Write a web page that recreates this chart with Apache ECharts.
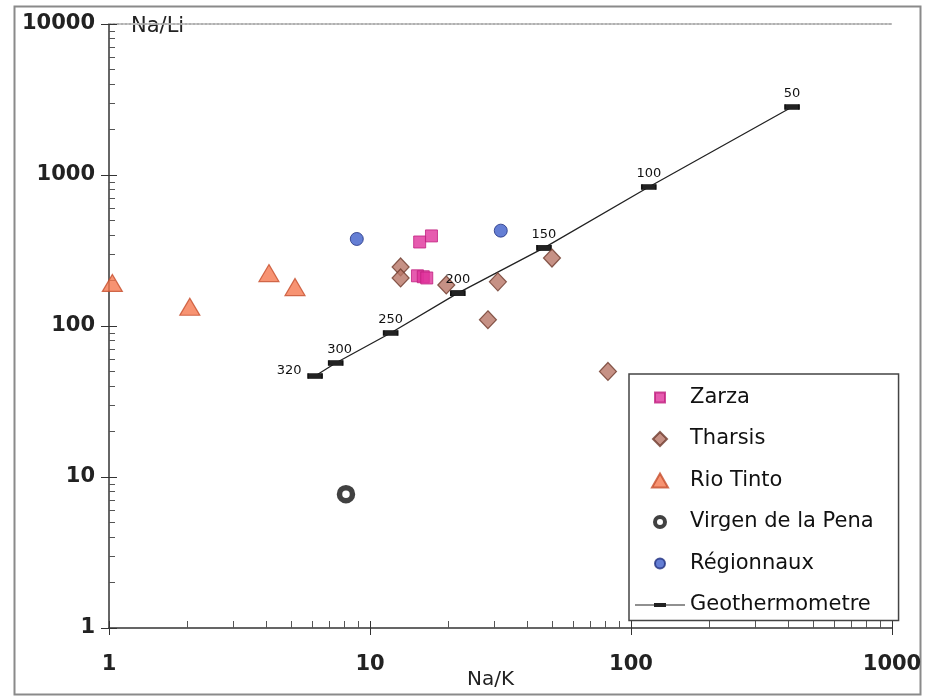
<!DOCTYPE html>
<html lang="en">
<head>
  <meta charset="UTF-8">
  <title>Na/K vs Na/Li</title>
  <script src="https://cdn.jsdelivr.net/npm/echarts@6/dist/echarts.min.js"></script>
  <style>
    body { margin: 0; background: #fff; }
    #main { width: 928px; height: 699px; }
  </style>
</head>
<body>
  <div id="main"></div>
  <script>
  // data, [Na/K, Na/Li]
  const zarza = [[15.5, 360], [17.2, 395], [15.2, 215], [16.0, 212], [16.5, 208]];
  const tharsis = [[13.1, 246], [13.1, 208], [19.6, 187], [30.9, 196], [28.3, 110], [49.8, 282], [81.6, 50]];
  const rioTinto = [[1.03, 193], [2.04, 134], [4.1, 224], [5.16, 181]];
  const virgen = [[8.09, 7.7]];
  const regionnaux = [[8.9, 377], [31.7, 428]];
  const geoTemps = ['320', '300', '250', '200', '150', '100', '50'];
  const geoPoints = [[6.16, 46.6], [7.39, 56.9], [12.0, 89.9], [21.7, 165], [46.4, 329], [117, 833], [414, 2820]];

  const xMajor = [1, 10, 100, 1000];
  const yMajor = [1, 10, 100, 1000, 10000];

  // minor ticks at 2..9 of each decade
  function minorTicks(lo, hi) {
    const out = [];
    for (let d = lo; d < hi; d *= 10) {
      for (let k = 2; k <= 9; k++) out.push(d * k);
    }
    return out;
  }
  const xMinor = minorTicks(1, 1000);
  const yMinor = minorTicks(1, 10000);

  // legend icons: 50x14 box (the moves set the box), shape centred so it is not stretched
  const box = 'M0,0M50,14';
  const icons = {
    square: 'path://' + box + 'M20,2L30,2L30,12L20,12Z',
    diamond: 'path://' + box + 'M25,0L32,7L25,14L18,7Z',
    triangle: 'path://' + box + 'M25,0L33,14L17,14Z',
    ring: 'path://' + box + 'M30,7A5,5 0 1 1 20,7A5,5 0 1 1 30,7Z',
    dot: 'path://' + box + 'M30,7A5,5 0 1 1 20,7A5,5 0 1 1 30,7Z',
    dash: 'path://' + box + 'M0,6.4L50,6.4L50,7.6L0,7.6ZM19,5L31,5L31,9L19,9Z'
  };

  const font = '"DejaVu Sans", sans-serif';
  const plain = v => String(Math.round(v));
  const chart = echarts.init(document.getElementById('main'));

  const baseX = { type: 'log', logBase: 10, min: 1, max: 1000, position: 'bottom', splitLine: { show: false } };
  const baseY = { type: 'log', logBase: 10, min: 1, max: 10000, position: 'left', offset: 0, splitLine: { show: false } };

  chart.setOption({
    animation: false,
    backgroundColor: '#fff',
    graphic: [{
      type: 'rect', left: 12, top: 4,
      shape: { width: 906, height: 688 },
      style: { fill: 'none', stroke: '#8a8a8a', lineWidth: 2 }
    }],
    grid: { left: 109, top: 24, width: 783, height: 604, outerBoundsMode: 'none' },
    xAxis: [
      Object.assign({}, baseX, {
        name: 'Na/K', nameLocation: 'middle', nameGap: 52, nameMoveOverlap: false,
        nameTextStyle: { fontFamily: font, fontSize: 20, color: '#222', verticalAlign: 'middle', padding: [0, 20, 0, 0] },
        axisLine: { lineStyle: { color: '#333', width: 1.5 } },
        axisTick: { customValues: xMajor, length: 7, lineStyle: { color: '#333' } },
        axisLabel: { customValues: xMajor, formatter: plain, margin: 26, fontFamily: font, fontSize: 21, fontWeight: 'bold', color: '#222' }
      }),
      Object.assign({}, baseX, {
        axisLine: { show: false },
        axisTick: { customValues: xMajor, inside: true, length: 7, lineStyle: { color: '#333' } },
        axisLabel: { show: false }
      }),
      Object.assign({}, baseX, {
        axisLine: { show: false },
        axisTick: { customValues: xMinor, inside: true, length: 7, lineStyle: { color: '#555' } },
        axisLabel: { show: false }
      }),
      Object.assign({}, baseX, {
        position: 'top',
        axisLine: { lineStyle: { color: '#b0b0b0', type: 'dotted', width: 2 } },
        axisTick: { show: false },
        axisLabel: { show: false }
      })
    ],
    yAxis: [
      Object.assign({}, baseY, {
        name: 'Na/Li', nameLocation: 'end', nameGap: -3,
        nameTextStyle: { fontFamily: font, fontSize: 21, color: '#222', align: 'left', verticalAlign: 'middle',
          backgroundColor: '#fff', padding: [0, 6, 0, 22] },
        axisLine: { lineStyle: { color: '#333', width: 1.5 } },
        axisTick: { customValues: yMajor, length: 8, lineStyle: { color: '#333' } },
        axisLabel: { customValues: yMajor, formatter: plain, margin: 14, fontFamily: font, fontSize: 21, fontWeight: 'bold', color: '#222' }
      }),
      Object.assign({}, baseY, {
        axisLine: { show: false },
        axisTick: { customValues: yMajor, inside: true, length: 8, lineStyle: { color: '#333' } },
        axisLabel: { show: false }
      }),
      Object.assign({}, baseY, {
        axisLine: { show: false },
        axisTick: { customValues: yMinor, inside: true, length: 6, lineStyle: { color: '#555' } },
        axisLabel: { show: false }
      })
    ],
    legend: {
      orient: 'vertical',
      left: 629, top: 374,
      padding: [13, 25, 5, 4],
      itemWidth: 50, itemHeight: 14, itemGap: 20.5,
      backgroundColor: '#fff',
      borderColor: '#444', borderWidth: 1.5,
      textStyle: { fontFamily: font, fontSize: 21, color: '#111' },
      data: [
        { name: 'Zarza', icon: icons.square },
        { name: 'Tharsis', icon: icons.diamond },
        { name: 'Rio Tinto', icon: icons.triangle },
        { name: 'Virgen de la Pena', icon: icons.ring, itemStyle: { borderWidth: 4, borderColor: '#111' } },
        { name: 'Régionnaux', icon: icons.dot },
        { name: 'Geothermometre', icon: icons.dash, itemStyle: { color: '#222', borderWidth: 0 } }
      ]
    },
    series: [
      {
        name: 'Geothermometre', type: 'line', z: 2,
        data: geoPoints,
        symbol: 'rect', symbolSize: [14, 5], showAllSymbol: true,
        lineStyle: { color: '#222', width: 1.3 },
        itemStyle: { color: '#222', borderColor: '#111', borderWidth: 1 },
        label: {
          show: true, position: 'top', distance: 4,
          fontFamily: font, fontSize: 13, color: '#111',
          formatter: p => geoTemps[p.dataIndex]
        },
        labelLayout: p => p.dataIndex === 0 ? { dx: -26, dy: 8 } : (p.dataIndex === 1 ? { dx: 4 } : {})
      },
      {
        name: 'Zarza', type: 'scatter', data: zarza,
        symbol: 'rect', symbolSize: 12,
        itemStyle: { color: '#e0329b', borderColor: '#c02080', borderWidth: 1 }
      },
      {
        name: 'Tharsis', type: 'scatter', data: tharsis,
        symbol: 'diamond', symbolSize: [17, 18],
        itemStyle: { color: '#b87567', borderColor: '#6e3a2c', borderWidth: 1.2 }
      },
      {
        name: 'Rio Tinto', type: 'scatter', data: rioTinto,
        symbol: 'triangle', symbolSize: [20, 17],
        itemStyle: { color: '#f5784f', borderColor: '#c54e2c', borderWidth: 1.2 }
      },
      {
        name: 'Virgen de la Pena', type: 'scatter', data: virgen,
        symbol: 'circle', symbolSize: 13,
        itemStyle: { color: '#fff', borderColor: '#111', borderWidth: 5.5 }
      },
      {
        name: 'Régionnaux', type: 'scatter', data: regionnaux,
        symbol: 'circle', symbolSize: 13,
        itemStyle: { color: '#3d5ec9', borderColor: '#1f2f80', borderWidth: 1 }
      }
    ]
  });
  </script>
</body>
</html>
